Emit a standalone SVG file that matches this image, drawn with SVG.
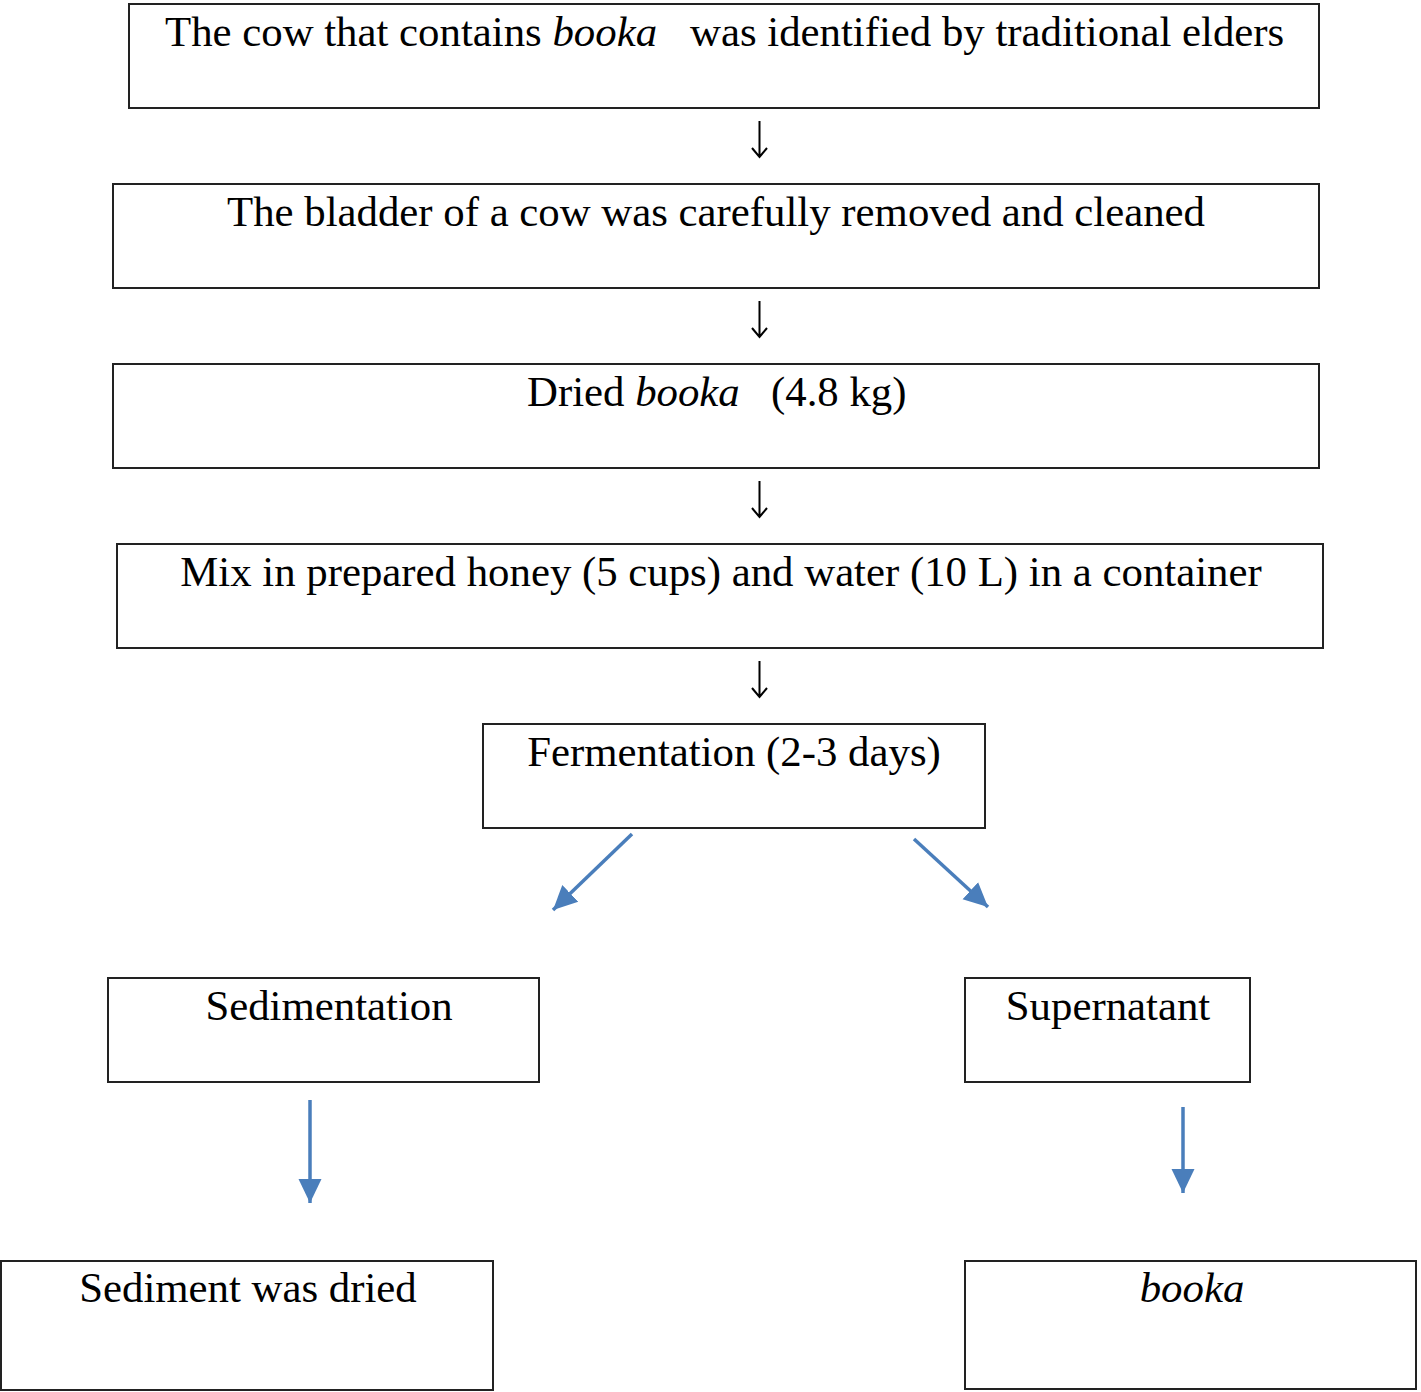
<svg xmlns="http://www.w3.org/2000/svg" width="1421" height="1392" viewBox="0 0 1421 1392">
<style>
.box{fill:#fff;stroke:#222;stroke-width:2}
.t{font-family:"Liberation Serif","Times New Roman",serif;font-size:42.8px;fill:#000}
.i{font-style:italic}
.k{stroke:#000;stroke-width:2;fill:none}
.b{stroke:#4A7EBB;stroke-width:3.5;fill:none}
</style>
<defs>
<marker id="ah" markerUnits="userSpaceOnUse" markerWidth="26" markerHeight="26" viewBox="0 0 26 26" refX="24" refY="13" orient="auto">
<path d="M0,1.5 L24,13 L0,24.5 Z" fill="#4A7EBB"/>
</marker>
</defs>
<rect width="1421" height="1392" fill="#fff"/>
<g id="n1"><rect class="box" x="129" y="4" width="1190" height="104"/>
<text class="t" y="46"><tspan x="165">The cow that contains </tspan><tspan class="i">booka</tspan><tspan x="690">was identified by traditional elders</tspan></text></g>
<g id="n2"><rect class="box" x="113" y="184" width="1206" height="104"/>
<text class="t" x="716" y="226" text-anchor="middle">The bladder of a cow was carefully removed and cleaned</text></g>
<g id="n3"><rect class="box" x="113" y="364" width="1206" height="104"/>
<text class="t" y="406"><tspan x="527">Dried </tspan><tspan class="i">booka</tspan><tspan x="771">(4.8 kg)</tspan></text></g>
<g id="n4"><rect class="box" x="117" y="544" width="1206" height="104"/>
<text class="t" x="721" y="586" text-anchor="middle">Mix in prepared honey (5 cups) and water (10 L) in a container</text></g>
<g id="n5"><rect class="box" x="483" y="724" width="502" height="104"/>
<text class="t" x="734" y="766" text-anchor="middle">Fermentation (2-3 days)</text></g>
<g id="n6"><rect class="box" x="108" y="978" width="431" height="104"/>
<text class="t" x="329" y="1020" text-anchor="middle">Sedimentation</text></g>
<g id="n7"><rect class="box" x="965" y="978" width="285" height="104"/>
<text class="t" x="1108" y="1020" text-anchor="middle">Supernatant</text></g>
<g id="n8"><rect class="box" x="1" y="1261" width="492" height="129"/>
<text class="t" x="248" y="1302" text-anchor="middle">Sediment was dried</text></g>
<g id="n9"><rect class="box" x="965" y="1261" width="451" height="128"/>
<text class="t i" x="1192" y="1302" text-anchor="middle">booka</text></g>
<g id="connectors">
<path class="k" d="M759.5,121 V157 M752,148 L759.5,157 L767,148"/>
<path class="k" d="M759.5,301 V337 M752,328 L759.5,337 L767,328"/>
<path class="k" d="M759.5,481 V517 M752,508 L759.5,517 L767,508"/>
<path class="k" d="M759.5,661 V697 M752,688 L759.5,697 L767,688"/>
<line class="b" x1="632" y1="834" x2="553" y2="910" marker-end="url(#ah)"/>
<line class="b" x1="914" y1="839" x2="988" y2="907" marker-end="url(#ah)"/>
<line class="b" x1="310" y1="1100" x2="310" y2="1203" marker-end="url(#ah)"/>
<line class="b" x1="1183" y1="1107" x2="1183" y2="1193" marker-end="url(#ah)"/>
</g>
</svg>
